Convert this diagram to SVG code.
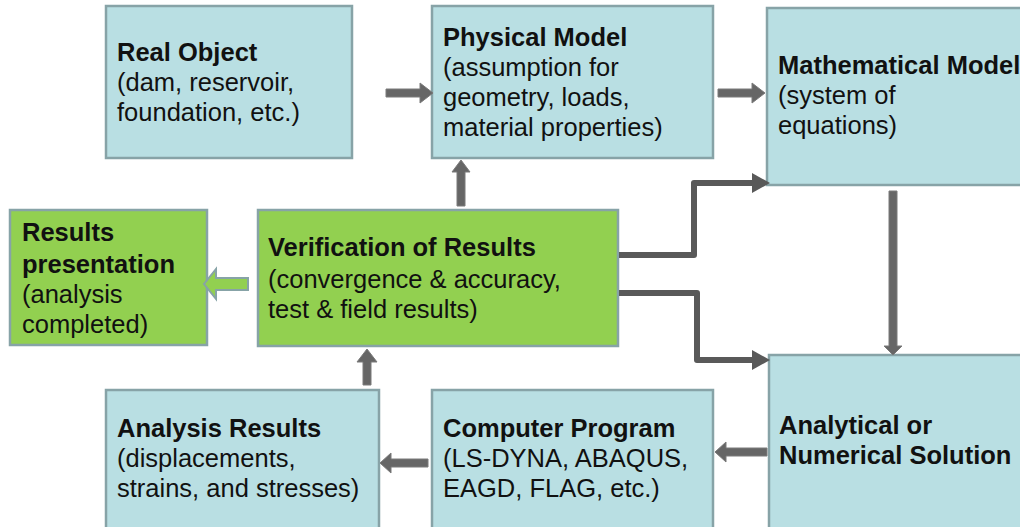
<svg xmlns="http://www.w3.org/2000/svg" width="1020" height="527" viewBox="0 0 1020 527">
<defs>
<style>
.box{fill:#b9dfe3;stroke:#87a3a7;stroke-width:2.5}
.gbox{fill:#92d050;stroke:#87a3a7;stroke-width:2.5}
text{font-family:"Liberation Sans",Arial,sans-serif;font-size:25.5px;fill:#111}
.b{font-weight:bold}
.blk{fill:#666;stroke:#7a7a7a;stroke-width:1}
.elbow{fill:none;stroke:#595959;stroke-width:6;stroke-linejoin:round}
.head{fill:#595959}
</style>
</defs>
<rect width="1020" height="527" fill="#fff"/>
<g id="real-object">
<rect class="box" x="106" y="6" width="246" height="152"/>
<text x="117" y="61" class="b">Real Object</text>
<text x="117" y="91">(dam, reservoir,</text>
<text x="117" y="121">foundation, etc.)</text>
</g>
<g id="physical-model">
<rect class="box" x="432" y="6" width="281" height="152"/>
<text x="443" y="46" class="b">Physical Model</text>
<text x="443" y="76">(assumption for</text>
<text x="443" y="106">geometry, loads,</text>
<text x="443" y="136">material properties)</text>
</g>
<g id="mathematical-model">
<rect class="box" x="767" y="8" width="260" height="177"/>
<text x="778" y="74" class="b">Mathematical Model</text>
<text x="778" y="104">(system of</text>
<text x="778" y="134">equations)</text>
</g>
<g id="results-presentation">
<rect class="gbox" x="10" y="210" width="197" height="135"/>
<text x="22" y="241" class="b">Results</text>
<text x="22" y="273" class="b">presentation</text>
<text x="22" y="303">(analysis</text>
<text x="22" y="333">completed)</text>
</g>
<g id="verification">
<rect class="gbox" x="258" y="210" width="360" height="136"/>
<text x="268" y="256" class="b">Verification of Results</text>
<text x="268" y="288">(convergence &amp; accuracy,</text>
<text x="268" y="318">test &amp; field results)</text>
</g>
<g id="analysis-results">
<rect class="box" x="106" y="390" width="273" height="145"/>
<text x="117" y="437" class="b">Analysis Results</text>
<text x="117" y="467">(displacements,</text>
<text x="117" y="497">strains, and stresses)</text>
</g>
<g id="computer-program">
<rect class="box" x="432" y="390" width="281" height="145"/>
<text x="443" y="437" class="b">Computer Program</text>
<text x="443" y="467">(LS-DYNA, ABAQUS,</text>
<text x="443" y="497">EAGD, FLAG, etc.)</text>
</g>
<g id="analytical-solution">
<rect class="box" x="769" y="355" width="260" height="180"/>
<text x="779" y="434" class="b">Analytical or</text>
<text x="779" y="464" class="b">Numerical Solution</text>
</g>
<g id="connectors">
<path class="blk" d="M386,89 L420,89 L420,83 L433,93 L420,103 L420,97 L386,97 Z"/>
<path class="blk" d="M718,89 L752,89 L752,83 L765,93 L752,103 L752,97 L718,97 Z"/>
<path class="blk" d="M457,206 L457,172 L452,172 L461,160 L470,172 L465,172 L465,206 Z"/>
<path class="blk" d="M889,191 L889,346 L884,346 L893,355 L902,346 L897,346 L897,191 Z"/>
<path d="M248,278 L216,278 L216,269 L204,284 L216,299 L216,290 L248,290 Z" fill="#92d050" stroke="#87a3a7" stroke-width="2"/>
<path class="blk" d="M363,385 L363,362 L357,362 L367,349 L377,362 L371,362 L371,385 Z"/>
<path class="blk" d="M428,459 L391,459 L391,453 L380,463 L391,473 L391,467 L428,467 Z"/>
<path class="blk" d="M767,448 L726,448 L726,442 L715,452 L726,462 L726,456 L767,456 Z"/>
<path class="elbow" d="M619,255 L694,255 L694,183 L754,183"/>
<path class="head" d="M752,173 L770,183 L752,193 Z"/>
<path class="elbow" d="M619,293 L697,293 L697,360 L754,360"/>
<path class="head" d="M752,350 L770,360 L752,370 Z"/>
</g>
</svg>
